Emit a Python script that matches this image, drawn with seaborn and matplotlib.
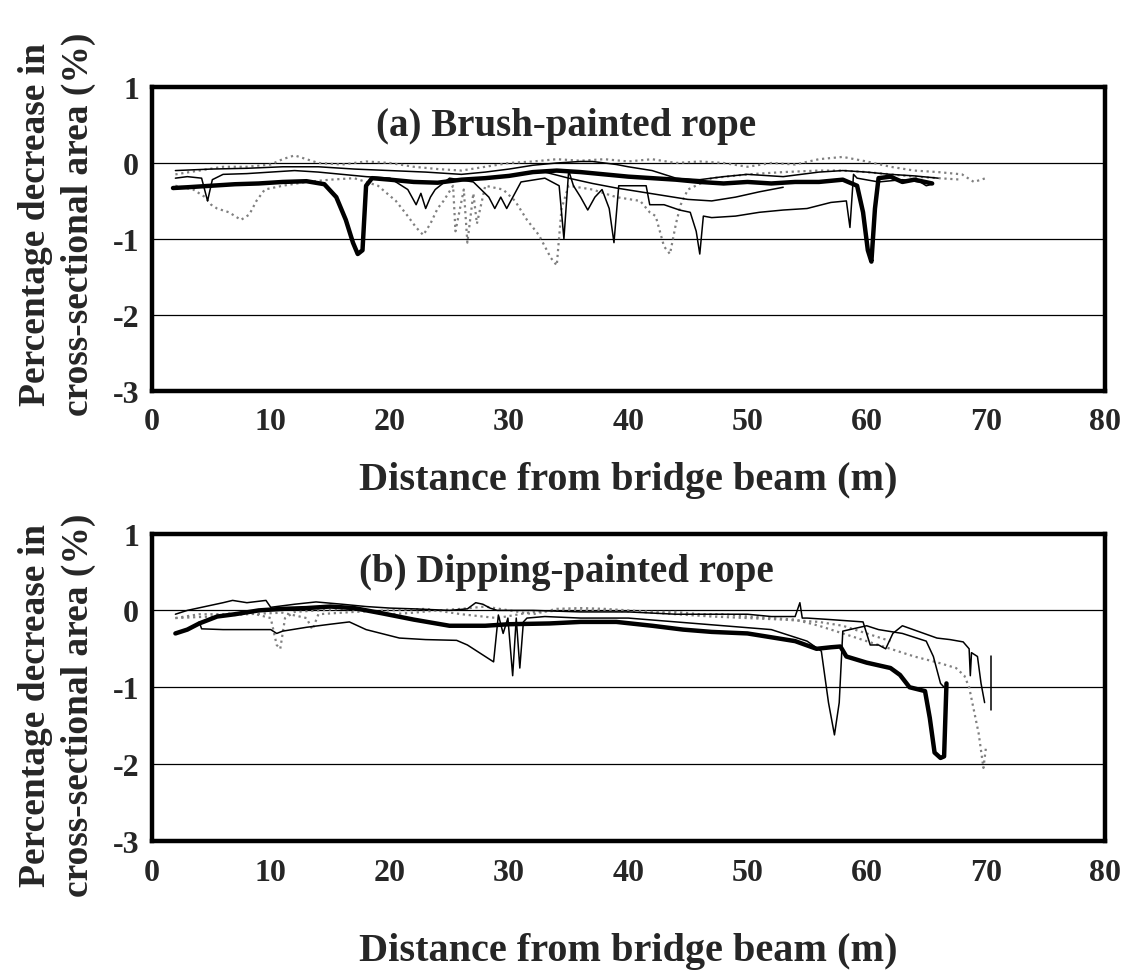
import matplotlib
matplotlib.use("Agg")
import matplotlib.pyplot as plt
import seaborn as sns

# ---- panel (a) brush-painted rope ----
a_thick_x = [1.8, 3, 5, 7, 9, 11, 13, 14.5, 15.5, 16.3, 16.9, 17.3, 17.7, 18.0, 18.5, 20, 22, 24, 26, 28, 30, 32, 34, 36, 38,
             40, 42, 44, 46, 48, 50, 52, 54, 56, 58, 59.2, 59.7, 60.1, 60.4, 60.7, 61.0, 62, 63, 64, 65.5]
a_thick_y = [-0.33, -0.32, -0.3, -0.28, -0.27, -0.25, -0.24, -0.28, -0.45, -0.75, -1.05, -1.2, -1.15, -0.3, -0.2, -0.22, -0.25,
             -0.26, -0.22, -0.2, -0.17, -0.12, -0.1, -0.12, -0.15, -0.18, -0.2, -0.22, -0.25, -0.27, -0.25, -0.27, -0.25,
             -0.25, -0.22, -0.3, -0.65, -1.15, -1.3, -0.6, -0.2, -0.18, -0.25, -0.22, -0.27]

a_thin1_x = [2, 3, 4.2, 4.7, 5.1, 6, 8, 10, 12, 14, 16, 18, 20, 21.5, 22.2, 22.6, 23.0, 23.4, 23.8, 25, 27, 28.3, 28.8, 29.3,
             29.8, 31, 33, 34.2, 34.6, 35.0, 35.4, 36.0, 36.6, 37.2, 37.8, 38.4, 38.8, 39.2, 40, 41.5, 41.8, 43, 44.3, 45.2,
             45.7, 46.0, 46.3, 47, 49, 51, 53, 55, 57, 58.3, 58.6, 58.9, 59.2, 61, 63, 64.5, 65, 65.5]
a_thin1_y = [-0.2, -0.18, -0.2, -0.5, -0.22, -0.15, -0.14, -0.12, -0.1, -0.12, -0.15, -0.18, -0.2, -0.35, -0.55, -0.4, -0.6,
             -0.45, -0.35, -0.2, -0.25, -0.45, -0.6, -0.45, -0.6, -0.25, -0.2, -0.3, -1.0, -0.1, -0.3, -0.45, -0.62, -0.45,
             -0.35, -0.6, -1.05, -0.3, -0.3, -0.3, -0.55, -0.55, -0.62, -0.65, -0.9, -1.2, -0.7, -0.72, -0.7, -0.65, -0.62,
             -0.6, -0.52, -0.5, -0.85, -0.15, -0.2, -0.25, -0.22, -0.25, -0.3, -0.28]

a_thin2_x = [2, 5, 8, 11, 14, 17, 20, 23, 26, 28, 30, 32, 34, 36, 37, 38, 39, 40, 42, 44, 46, 48, 50, 53, 56, 58, 60, 62,
             64, 66]
a_thin2_y = [-0.1, -0.08, -0.07, -0.05, -0.05, -0.08, -0.1, -0.12, -0.15, -0.12, -0.08, -0.03, 0.0, 0.02, 0.02, 0.0, -0.02,
             -0.05, -0.1, -0.2, -0.22, -0.18, -0.15, -0.18, -0.12, -0.1, -0.12, -0.15, -0.17, -0.2]

a_thin3_x = [33, 35, 37, 39, 41, 43, 45, 47, 49, 51, 53]
a_thin3_y = [-0.12, -0.2, -0.27, -0.33, -0.38, -0.43, -0.48, -0.5, -0.45, -0.38, -0.32]

a_dot1_x = [2, 4, 6, 8, 10, 11, 12, 13, 14, 16, 18, 20, 22, 24, 26, 28, 30, 32, 34, 36, 38, 40, 42, 44, 46, 48, 50, 52,
            54, 56, 58, 60, 62, 64, 66, 68, 69, 70]
a_dot1_y = [-0.15, -0.1, -0.05, -0.05, -0.02, 0.05, 0.1, 0.05, 0.0, -0.02, 0.02, 0.0, -0.05, -0.08, -0.1, -0.05, 0.0, 0.02,
            0.05, 0.03, 0.05, 0.02, 0.05, 0.0, 0.02, 0.0, -0.05, 0.0, -0.02, 0.05, 0.08, 0.02, -0.05, -0.1, -0.12, -0.15,
            -0.25, -0.2]

a_dot2_x = [2, 3.5, 4.5, 5.0, 5.5, 6.5, 7.5, 8.2, 8.8, 9.5, 11, 13, 15, 17, 19, 20.5, 21.5, 22.2, 22.8, 23.4, 24.0, 24.5,
            25.3, 25.5, 26.2, 26.5, 27.0, 27.3, 28, 29.5, 30.5, 31.5, 32.5, 33.5, 34.0, 34.4, 35, 37, 39, 41, 41.8, 42.3,
            43.0, 43.5, 44.0, 44.4, 45, 47, 50, 53, 56, 58, 60, 62, 64, 66, 68]
a_dot2_y = [-0.3, -0.35, -0.45, -0.55, -0.6, -0.65, -0.75, -0.68, -0.5, -0.35, -0.3, -0.25, -0.22, -0.2, -0.3, -0.5, -0.7,
            -0.85, -0.95, -0.8, -0.6, -0.5, -0.3, -0.9, -0.35, -1.05, -0.4, -0.8, -0.3, -0.35, -0.5, -0.75, -0.95, -1.25,
            -1.35, -0.6, -0.3, -0.35, -0.45, -0.5, -0.65, -0.7, -1.1, -1.2, -0.8, -0.55, -0.35, -0.2, -0.15, -0.12, -0.1,
            -0.1, -0.12, -0.15, -0.18, -0.2, -0.22]

# ---- panel (b) dipping-painted rope ----
b_thick_x = [2, 3, 4, 5.5, 7, 9, 11, 13, 15, 17, 19.4, 22, 25, 28, 30, 33.4, 36, 39, 42, 44.6, 47, 50, 52, 54, 55.8, 57,
             57.8, 58.3, 60, 62, 62.8, 63.6, 64.9, 65.3, 65.7, 66.2, 66.5, 66.7]
b_thick_y = [-0.3, -0.25, -0.17, -0.08, -0.05, 0.0, 0.02, 0.03, 0.05, 0.03, -0.04, -0.12, -0.2, -0.2, -0.18, -0.17, -0.15,
             -0.15, -0.2, -0.25, -0.28, -0.3, -0.35, -0.4, -0.5, -0.48, -0.47, -0.6, -0.68, -0.75, -0.84, -1.0, -1.05,
             -1.4, -1.85, -1.92, -1.9, -0.95]

b_thin1_x = [4, 4.2, 6, 8, 10, 10.5, 11, 13, 15, 16.6, 18, 20.8, 23, 25.6, 26.5, 27.5, 28.7, 29.1, 29.5, 29.9, 30.3, 30.6,
             30.9, 31.2, 31.5, 33, 36, 40, 44, 48, 52, 55, 56.2, 56.8, 57.3, 57.7, 58.0, 60, 61, 63, 64, 65, 65.6, 66.2,
             66.5]
b_thin1_y = [-0.15, -0.24, -0.25, -0.25, -0.25, -0.3, -0.27, -0.22, -0.18, -0.15, -0.25, -0.36, -0.38, -0.39, -0.45, -0.55,
             -0.67, -0.06, -0.3, -0.1, -0.85, -0.1, -0.75, -0.15, -0.1, -0.08, -0.1, -0.1, -0.15, -0.2, -0.25, -0.4, -0.53,
             -1.2, -1.62, -1.2, -0.27, -0.2, -0.25, -0.3, -0.35, -0.4, -0.6, -0.95, -1.0]

b_thin2_x = [2, 3, 4.5, 6, 6.8, 8, 9.6, 10, 10.5, 12, 13.8, 16, 18, 20, 22, 25, 26.5, 27.2, 27.8, 28.4, 29, 32, 36, 40, 44,
             48, 50, 52, 54, 54.4, 54.6, 55, 57, 59.7, 60.3, 61, 61.6, 62.2, 63, 65.9, 67, 68.1, 68.6, 68.7, 68.8, 69.3,
             69.6, 69.9]
b_thin2_y = [-0.05, 0.0, 0.05, 0.1, 0.13, 0.1, 0.13, 0.04, 0.05, 0.08, 0.11, 0.08, 0.05, 0.03, 0.02, 0.0, 0.02, 0.1, 0.08,
             0.03, 0.0, 0.0, -0.02, -0.02, -0.05, -0.05, -0.05, -0.08, -0.08, 0.1, -0.1, -0.1, -0.12, -0.15, -0.45, -0.45,
             -0.5, -0.3, -0.2, -0.36, -0.38, -0.41, -0.5, -0.85, -0.55, -0.6, -0.95, -1.2]

b_vert_x = [70.4, 70.4]
b_vert_y = [-0.6, -1.3]

b_dot1_x = [2, 4, 6, 8, 10, 10.5, 10.8, 11.2, 12, 14, 16, 18, 20, 22, 24, 26, 28, 30, 32, 34, 36, 38, 40, 42, 44, 46, 48,
            50, 52, 54, 56, 58, 60, 62, 64, 66, 67.5, 68.2, 68.6, 69.0, 69.4, 69.8, 70.0]
b_dot1_y = [-0.1, -0.05, -0.05, -0.02, -0.1, -0.45, -0.5, -0.1, -0.02, 0.0, 0.02, 0.0, -0.05, -0.03, 0.0, 0.02, 0.05, 0.0,
            -0.05, 0.02, 0.03, 0.02, 0.0, -0.02, -0.02, -0.05, -0.05, -0.08, -0.1, -0.12, -0.2, -0.3, -0.4, -0.5, -0.6,
            -0.68, -0.75, -0.85, -1.0, -1.3, -1.6, -2.05, -1.8]

b_dot2_x = [2, 5, 8, 11, 13, 13.5, 14, 17, 20, 23, 26, 29, 32, 35, 38, 41, 44, 47, 50, 53, 56, 58, 60, 62]
b_dot2_y = [-0.1, -0.08, -0.05, -0.03, -0.1, -0.25, -0.05, -0.02, 0.0, 0.02, -0.05, -0.1, -0.02, 0.0, 0.0, -0.02, -0.05,
            -0.08, -0.1, -0.12, -0.15, -0.2, -0.3, -0.4]

x_ticks = [0, 10, 20, 30, 40, 50, 60, 70, 80]
y_ticks = [-3, -2, -1, 0, 1]

sns.set_style("white")
plt.rcParams["font.family"] = ["Liberation Serif", "DejaVu Serif"]
plt.rcParams["font.weight"] = "bold"
plt.rcParams["axes.unicode_minus"] = False

THICK = dict(color="black", lw=3.2)
THIN = dict(color="black", lw=1.1)
DOT = dict(color="0.5", lw=1.6, ls=":")

fig = plt.figure(figsize=(11.31, 9.79), dpi=100)
ax_a = fig.add_axes([0.134, 0.600, 0.843, 0.310])
ax_b = fig.add_axes([0.134, 0.140, 0.843, 0.314])


def draw(ax, x, y, style):
    sns.lineplot(x=x, y=y, ax=ax, sort=False, estimator=None, **style)


draw(ax_a, a_dot1_x, a_dot1_y, DOT)
draw(ax_a, a_dot2_x, a_dot2_y, DOT)
draw(ax_a, a_thin2_x, a_thin2_y, THIN)
draw(ax_a, a_thin3_x, a_thin3_y, THIN)
draw(ax_a, a_thin1_x, a_thin1_y, THIN)
draw(ax_a, a_thick_x, a_thick_y, THICK)

draw(ax_b, b_dot1_x, b_dot1_y, DOT)
draw(ax_b, b_dot2_x, b_dot2_y, DOT)
draw(ax_b, b_thin2_x, b_thin2_y, THIN)
draw(ax_b, b_thin1_x, b_thin1_y, THIN)
draw(ax_b, b_vert_x, b_vert_y, THIN)
draw(ax_b, b_thick_x, b_thick_y, THICK)

titles = ["(a) Brush-painted rope", "(b) Dipping-painted rope"]
for ax, title, pad in [(ax_a, titles[0], 18), (ax_b, titles[1], 33)]:
    ax.set_xlim(0, 80)
    ax.set_ylim(-3, 1)
    ax.set_xticks(x_ticks)
    ax.set_yticks(y_ticks)
    ax.tick_params(axis="x", length=0, labelsize=23, pad=12)
    ax.tick_params(axis="y", length=0, labelsize=23, pad=9)
    for lab in ax.get_xticklabels() + ax.get_yticklabels():
        lab.set_fontweight("bold")
    ax.yaxis.grid(True, color="black", lw=0.9)
    for sp in ax.spines.values():
        sp.set_linewidth(3.2)
        sp.set_color("black")
    ax.set_xlabel("Distance from bridge beam (m)", fontsize=29, fontweight="bold", labelpad=pad)
    ax.set_ylabel("Percentage decrease in\ncross-sectional area (%)", fontsize=27, fontweight="bold",
                  multialignment="center", linespacing=1.3)
    ax.text(0.435, 0.875, title, transform=ax.transAxes, ha="center", va="center",
            fontsize=28, fontweight="bold")

ax_a.yaxis.set_label_coords(-0.058, 0.55)
ax_b.yaxis.set_label_coords(-0.058, 0.445)

fig.savefig("out.png", dpi=100)
